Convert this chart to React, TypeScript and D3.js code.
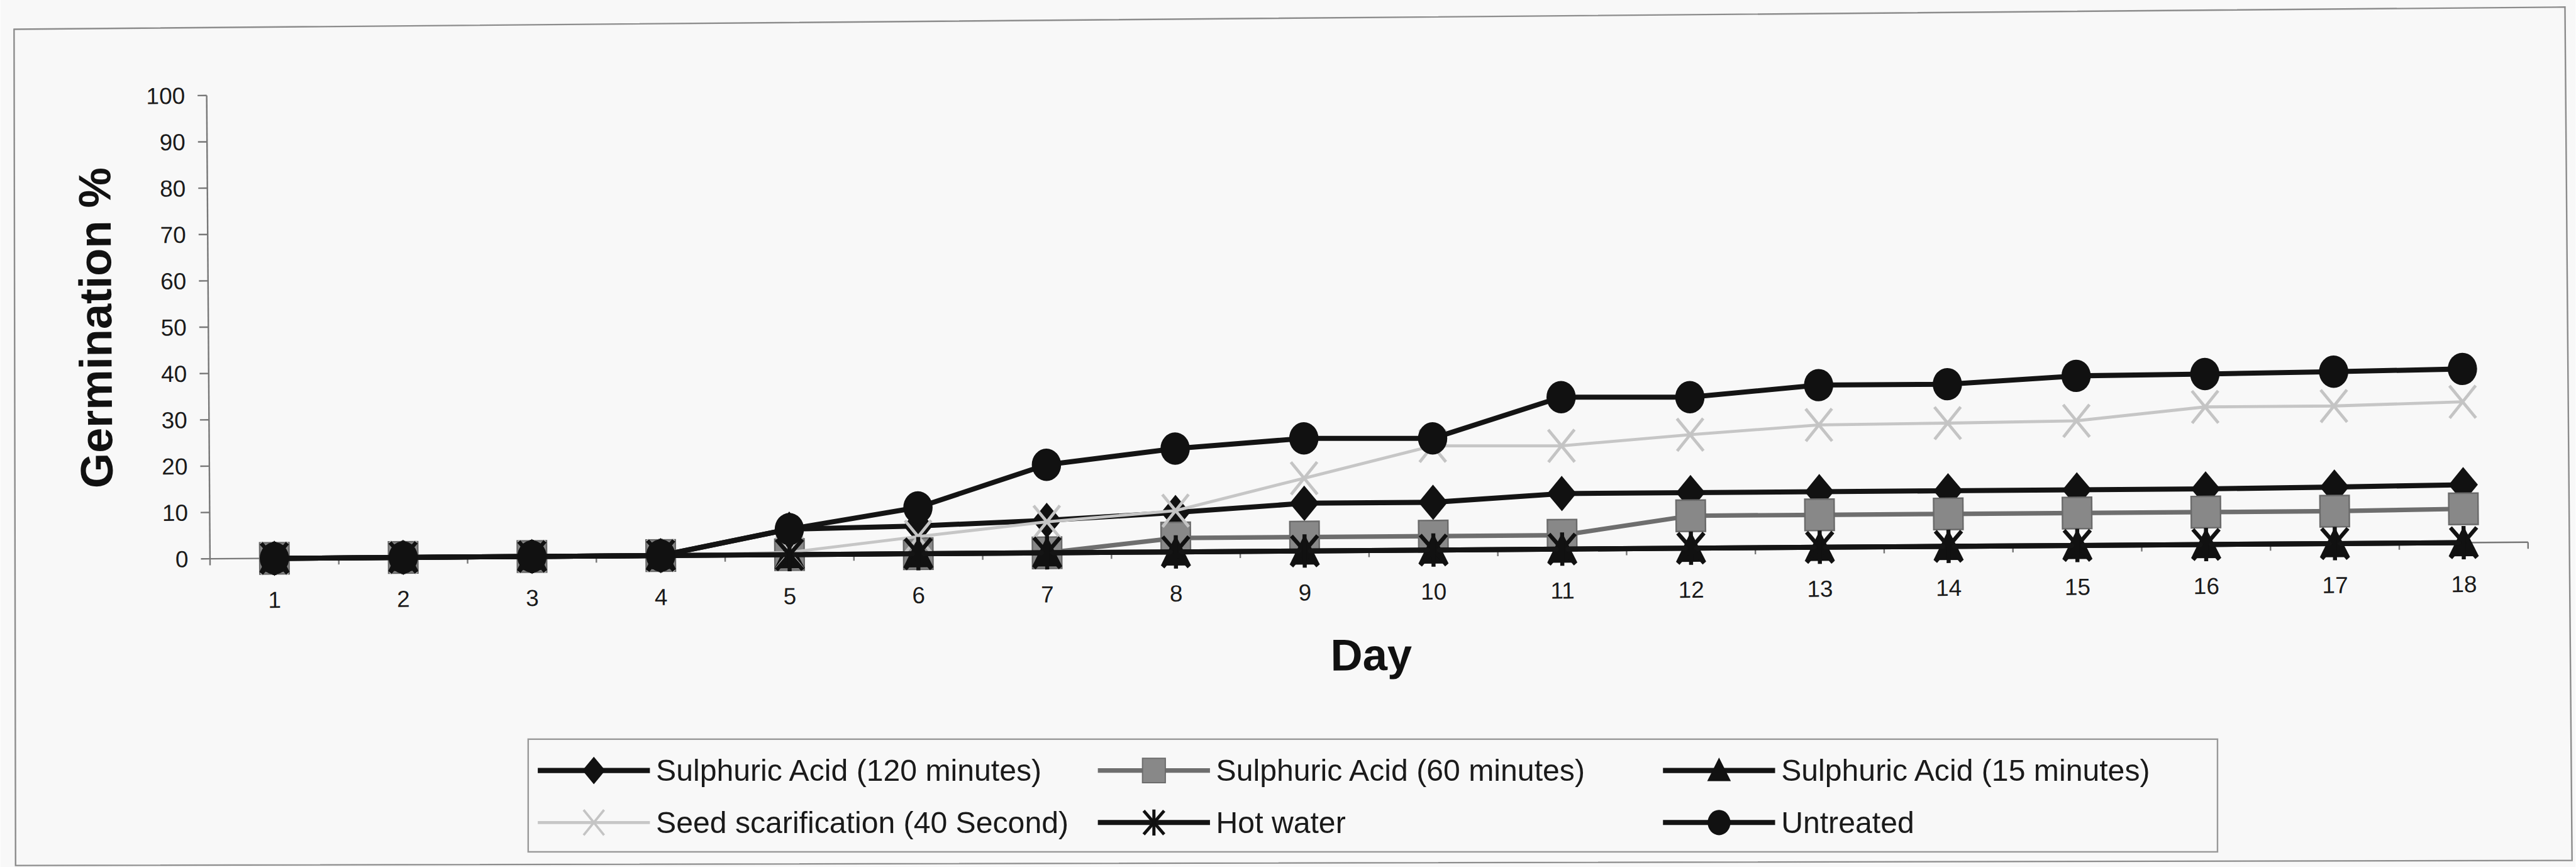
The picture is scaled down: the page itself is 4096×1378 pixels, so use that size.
import React from "react";
import * as d3 from "d3";

// ---------- data ----------
const days = [1, 2, 3, 4, 5, 6, 7, 8, 9, 10, 11, 12, 13, 14, 15, 16, 17, 18];
const sa120 = [0, 0, 0, 0, 5.5, 6, 7, 8.5, 10.3, 10.3, 12, 12, 12, 12, 12, 12, 12.2, 12.5];
const sa60 = [0, 0, 0, 0, 0, 0, 0, 3, 3, 3, 3, 7, 7, 7, 7, 7, 7, 7.3];
const sa15 = [0, 0, 0, 0, 0, 0, 0, 0, 0, 0, 0, 0, 0, 0, 0, 0, 0, 0];
const seedScar = [0, 0, 0, 0, 0.5, 3.7, 6.7, 8.9, 15.7, 22.5, 22.3, 24.5, 26.4, 26.6, 26.9, 29.7, 29.7, 30.4];
const hotWater = [0, 0, 0, 0, 0, 0, 0, 0, 0, 0, 0, 0, 0, 0, 0, 0, 0, 0];
const untreated = [0, 0, 0, 0, 5.5, 10, 19, 22.3, 24.3, 24.1, 32.8, 32.6, 35, 35, 36.6, 36.8, 37.1, 37.5];
const yTicks = [0, 10, 20, 30, 40, 50, 60, 70, 80, 90, 100];
const seriesNames = [
  "Sulphuric Acid (120 minutes)",
  "Sulphuric Acid (60 minutes)",
  "Sulphuric Acid (15 minutes)",
  "Seed scarification (40 Second)",
  "Hot water",
  "Untreated",
];
const xTitle = "Day";
const yTitle = "Germination %";

type MarkerType = "diamond" | "square" | "triangle" | "x" | "star" | "circle";
interface Series {
  name: string;
  values: number[];
  line: string;
  lw: number;
  marker: MarkerType;
}

const series: Series[] = [
  { name: seriesNames[0], values: sa120, line: "#141414", lw: 10, marker: "diamond" },
  { name: seriesNames[1], values: sa60, line: "#6e6e6e", lw: 9, marker: "square" },
  { name: seriesNames[2], values: sa15, line: "#141414", lw: 10, marker: "triangle" },
  { name: seriesNames[3], values: seedScar, line: "#c6c6c6", lw: 6, marker: "x" },
  { name: seriesNames[4], values: hotWater, line: "#141414", lw: 10, marker: "star" },
  { name: seriesNames[5], values: untreated, line: "#141414", lw: 10, marker: "circle" },
];

// ---------- layout (reference pixel units) ----------
const W = 5099;
const H = 1716;
const PL = 415, PR = 5005, PT = 189, PB = 1106;
const FONT = "'Liberation Sans', Arial, Helvetica, sans-serif";
const TILT = -0.41;

function Marker({ type, cx, cy, k = 1 }: { type: MarkerType; cx: number; cy: number; k?: number }) {
  const t = `translate(${cx},${cy}) scale(${k})`;
  switch (type) {
    case "diamond":
      return <path transform={t} d="M0,-35L29,0L0,35L-29,0Z" fill="#111" />;
    case "square":
      return <rect transform={t} x={-29} y={-31} width={58} height={62} fill="#888" stroke="#6a6a6a" strokeWidth={3} />;
    case "triangle":
      return <path transform={t} d="M0,-33L30,27L-30,27Z" fill="#111" />;
    case "x":
      return (
        <g transform={t} stroke="#c4c4c4" strokeWidth={6} fill="none">
          <line x1={-26} y1={-32} x2={26} y2={32} />
          <line x1={-26} y1={32} x2={26} y2={-32} />
        </g>
      );
    case "star":
      return (
        <g transform={t} stroke="#111" strokeWidth={8} fill="none">
          <line x1={-26} y1={-30} x2={26} y2={30} />
          <line x1={-26} y1={30} x2={26} y2={-30} />
          <line x1={0} y1={-33} x2={0} y2={33} />
        </g>
      );
    case "circle":
    default:
      return <ellipse transform={t} cx={0} cy={0} rx={29} ry={32} fill="#111" />;
  }
}

export default function App() {
  const x = d3.scalePoint<number>().domain(days).range([PL, PR]).padding(0.5);
  const y = d3.scaleLinear().domain([0, 100]).range([PB, PT]);
  const step = x.step();
  const boundaries = d3.range(days.length + 1).map((i) => PL + i * step);

  const lineGen = d3
    .line<number>()
    .x((_, i) => x(days[i]) as number)
    .y((v) => y(v));

  const legendCols = [1064, 2173, 3292];
  const legendRows = [1525, 1628];
  const legendLineLen = 222;

  return (
    <svg
      width={4096}
      height={1378}
      viewBox={`0 0 ${W} ${H}`}
      style={{ position: "absolute", left: 0, top: 0, display: "block" }}
      fontFamily={FONT}
    >
      <rect x={0} y={0} width={W} height={H} fill="#f8f8f8" />
      {/* outer chart frame (as scanned) */}
      <path d="M27,58L5078,14L5092,1703L30,1713Z" fill="none" stroke="#8c8c8c" strokeWidth={3} />

      <g transform={`rotate(${TILT},${PL},${PB})`}>
        {/* y axis */}
        <line x1={PL} y1={PT} x2={PL} y2={PB} stroke="#777" strokeWidth={3} />
        {yTicks.map((t) => (
          <g key={t}>
            <line x1={PL - 18} x2={PL} y1={y(t)} y2={y(t)} stroke="#777" strokeWidth={3} />
            <text x={372} y={y(t)} dy="0.35em" textAnchor="end" fontSize={46} fill="#1a1a1a">
              {t}
            </text>
          </g>
        ))}
        {/* x axis */}
        <line x1={PL} y1={PB} x2={PR} y2={PB} stroke="#777" strokeWidth={3} />
        {boundaries.map((bx, i) => (
          <line key={i} x1={bx} x2={bx} y1={PB} y2={PB + 13} stroke="#777" strokeWidth={3} />
        ))}
        {days.map((d) => (
          <text key={d} x={x(d)} y={1204} textAnchor="middle" fontSize={46} fill="#1a1a1a">
            {d}
          </text>
        ))}
        {/* titles */}
        <text x={(PL + PR) / 2 + 3} y={1343} textAnchor="middle" fontSize={88} fontWeight="bold" fill="#111">
          {xTitle}
        </text>
        <text
          transform={`translate(223,${(PT + PB) / 2}) rotate(-90)`}
          textAnchor="middle"
          fontSize={90}
          fontWeight="bold"
          fill="#111"
        >
          {yTitle}
        </text>

        {/* series */}
        {series.map((s) => (
          <g key={s.name}>
            <path d={lineGen(s.values) || ""} fill="none" stroke={s.line} strokeWidth={s.lw} strokeLinejoin="round" />
            {s.values.map((v, i) => (
              <Marker key={i} type={s.marker} cx={x(days[i]) as number} cy={y(v)} />
            ))}
          </g>
        ))}
      </g>

      {/* legend */}
      <rect x={1045} y={1463} width={4390 - 1045} height={1686 - 1463} fill="#f8f8f8" stroke="#999" strokeWidth={3} />
      {series.map((s, i) => {
        const col = i % 3;
        const row = Math.floor(i / 3);
        const lx = legendCols[col];
        const ly = legendRows[row];
        return (
          <g key={s.name}>
            <line x1={lx} x2={lx + legendLineLen} y1={ly} y2={ly} stroke={s.line} strokeWidth={s.lw} />
            <Marker type={s.marker} cx={lx + legendLineLen / 2} cy={ly} k={0.78} />
            <text x={lx + legendLineLen + 12} y={ly} dy="0.35em" fontSize={60} fill="#1a1a1a">
              {s.name}
            </text>
          </g>
        );
      })}
    </svg>
  );
}
